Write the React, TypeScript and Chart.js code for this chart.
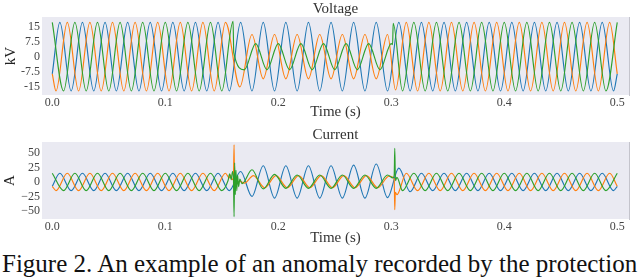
import React, { useEffect, useRef } from 'react';
import { Chart, registerables } from 'chart.js';

Chart.register(...registerables);

// ---- axis ticks (time in ms, labelled in seconds) ----
const xTicks = [0, 100, 200, 300, 400, 500];
const xTickLabels = ['0.0', '0.1', '0.2', '0.3', '0.4', '0.5'];
const vTicks = [-15, -7.5, 0, 7.5, 15];
const vTickLabels = ['-15', '-7.5', '0', '7.5', '15'];
const iTicks = [-50, -25, 0, 25, 50];
const iTickLabels = ['\u221250', '\u221225', '0', '25', '50'];
const seriesNames = ['Phase 1', 'Phase 2', 'Phase 3'];
const caption = 'Figure 2. An example of an anomaly recorded by the protection';

// ---- voltage (kV) : [time ms, value] at extrema / transients ----
const vBlue = [[0,-8.5],[6.7,17],[16.7,-17],[26.7,17],[36.7,-17],[46.7,17],[56.7,-17],[66.7,17],[76.7,-17],[86.7,17],[96.7,-17],[106.7,17],[116.7,-17],[126.7,17],[136.7,-17],[146.7,17],[156.7,-17],[166.7,17],[176.7,-17],[186.7,17],[196.7,-17],[206.7,17],[216.7,-17],[226.7,17],[236.7,-17],[246.7,17],[256.7,-17],[266.7,17],[276.7,-17],[286.7,17],[296.7,-17],[306.7,17],[316.7,-17],[326.7,17],[336.7,-17],[346.7,17],[356.7,-17],[366.7,17],[376.7,-17],[386.7,17],[396.7,-17],[406.7,17],[416.7,-17],[426.7,17],[436.7,-17],[446.7,17],[456.7,-17],[466.7,17],[476.7,-17],[486.7,17],[496.7,-17],[500,-8.5]];
const vOrange = [[0,-8.5],[3.3,-17],[13.3,17],[23.3,-17],[33.3,17],[43.3,-17],[53.3,17],[63.3,-17],[73.3,17],[83.3,-17],[93.3,17],[103.3,-17],[113.3,17],[123.3,-17],[133.3,17],[143.3,-17],[153.3,17],[166,-15],[176.7,11],[186.7,-11],[196.7,11],[206.7,-11],[216.7,11],[226.7,-11],[236.7,11],[246.7,-11],[256.7,11],[266.7,-11],[276.7,11],[286.7,-11],[296.7,11],[303.8,-16.5],[313.3,17],[323.3,-17],[333.3,17],[343.3,-17],[353.3,17],[363.3,-17],[373.3,17],[383.3,-17],[393.3,17],[403.3,-17],[413.3,17],[423.3,-17],[433.3,17],[443.3,-17],[453.3,17],[463.3,-17],[473.3,17],[483.3,-17],[493.3,17],[500,-8.5]];
const vGreen = [[0,17],[10,-17],[20,17],[30,-17],[40,17],[50,-17],[60,17],[70,-17],[80,17],[90,-17],[100,17],[110,-17],[120,17],[130,-17],[140,17],[150,-17],[160,17.5],[160.6,2],[170,-6.5],[180,6.5],[190,-6.5],[200,6.5],[210,-6.5],[220,6.5],[230,-6.5],[240,6.5],[250,-6.5],[260,6.5],[270,-6.5],[280,6.5],[290,-6.5],[300,6.5],[301.2,6],[301.7,16.5],[310,-17],[320,17],[330,-17],[340,17],[350,-17],[360,17],[370,-17],[380,17],[390,-17],[400,17],[410,-17],[420,17],[430,-17],[440,17],[450,-17],[460,17],[470,-17],[480,17],[490,-17],[500,17]];

// ---- current (A) ----
const iBlue = [[0,-7.5],[6.7,15],[16.7,-15],[26.7,15],[36.7,-15],[46.7,15],[56.7,-15],[66.7,15],[76.7,-15],[86.7,15],[96.7,-15],[106.7,15],[116.7,-15],[126.7,15],[136.7,-15],[146.7,15],[156.7,-15],[166.7,18],[176.7,-25],[186.7,28],[196.7,-28],[206.7,28],[216.7,-28],[226.7,28],[236.7,-28],[246.7,28],[256.7,-28],[266.7,29],[276.7,-28],[286.7,31],[296.7,-27],[306.7,24],[316.7,-17],[326.7,15],[336.7,-15],[346.7,15],[356.7,-15],[366.7,15],[376.7,-15],[386.7,15],[396.7,-15],[406.7,15],[416.7,-15],[426.7,15],[436.7,-15],[446.7,15],[456.7,-15],[466.7,15],[476.7,-15],[486.7,15],[496.7,-15],[500,-7.5]];
const iOrange = [[0,-7.5],[3.3,-15],[13.3,15],[23.3,-15],[33.3,15],[43.3,-15],[53.3,15],[63.3,-15],[73.3,15],[83.3,-15],[93.3,15],[103.3,-15],[113.3,15],[123.3,-15],[133.3,15],[143.3,-15],[153.3,15],[156.5,7],[157.8,12],[159,4],[160.3,8],[160.9,64],[161.3,-8],[162,4],[163,-3],[166,1],[170,-2],[178,11],[188,-10],[198,11],[208,-10],[218,11],[228,-10],[238,11],[248,-10],[258,11],[268,-10],[278,11],[288,-10],[298,10],[302.6,6],[303.1,-48],[303.6,-18],[305,-22],[313.3,15],[323.3,-15],[333.3,15],[343.3,-15],[353.3,15],[363.3,-15],[373.3,15],[383.3,-15],[393.3,15],[403.3,-15],[413.3,15],[423.3,-15],[433.3,15],[443.3,-15],[453.3,15],[463.3,-15],[473.3,15],[483.3,-15],[493.3,15],[500,-7.5]];
const iGreen = [[0,15],[10,-15],[20,15],[30,-15],[40,15],[50,-15],[60,15],[70,-15],[80,15],[90,-15],[100,15],[110,-15],[120,15],[130,-15],[140,15],[150,-15],[155.5,2],[157,14],[158.3,4],[159.5,18],[160.3,9],[160.9,-60],[161.4,33],[162,-22],[162.6,20],[163.3,-15],[164,12],[164.9,-8],[166,5],[168,-3],[176.7,21],[186.7,-12],[196.7,13],[206.7,-11],[216.7,12],[226.7,-11],[236.7,12],[246.7,-11],[256.7,12],[266.7,-11],[276.7,12],[286.7,-11],[296.7,12],[301.5,7],[302.6,12],[303.1,58],[303.7,2],[305,8],[310,-15],[320,15],[330,-15],[340,15],[350,-15],[360,15],[370,-15],[380,15],[390,-15],[400,15],[410,-15],[420,15],[430,-15],[440,15],[450,-15],[460,15],[470,-15],[480,15],[490,-15],[500,15]];

const COLORS = ['#1f77b4', '#ff7f0e', '#2ca02c'];
const SERIF = '"Liberation Serif", "Times New Roman", serif';

const panelPlugin = {
  id: 'panel',
  beforeDraw(chart: any) {
    const { ctx, chartArea: a } = chart;
    ctx.save();
    ctx.fillStyle = '#EAEAF2';
    ctx.fillRect(a.left, a.top, a.right - a.left, a.bottom - a.top);
    ctx.restore();
  },
  afterDraw(chart: any, _args: any, opts: any) {
    const { ctx, chartArea: a } = chart;
    ctx.save();
    ctx.strokeStyle = '#c4c4cc';
    ctx.lineWidth = 1;
    ctx.beginPath();
    ctx.moveTo(a.right + 0.5, a.top);
    ctx.lineTo(a.right + 0.5, a.bottom + 1);
    ctx.stroke();
    ctx.fillStyle = '#333';
    ctx.font = '15px ' + SERIF;
    ctx.textAlign = 'center';
    ctx.textBaseline = 'middle';
    ctx.fillText(opts.title, (a.left + a.right) / 2, opts.titleY);
    ctx.restore();
  },
};

type Panel = {
  series: number[][][];
  title: string;
  titleY: number;
  yLabel: string;
  yMin: number;
  yMax: number;
  yTicks: number[];
  yTickLabels: string[];
  padTop: number;
  xAxisH: number;
  xTitlePad: number;
  yTitlePad: number;
};

function makeConfig(p: Panel): any {
  return {
    type: 'line',
    data: {
      datasets: p.series.map((s, i) => ({
        label: seriesNames[i],
        data: s.map(([x, y]) => ({ x, y })),
        borderColor: COLORS[i],
        backgroundColor: COLORS[i],
        borderWidth: 1.15,
        pointRadius: 0,
        fill: false,
        cubicInterpolationMode: 'monotone',
        order: 3 - i,
      })),
    },
    options: {
      responsive: false,
      animation: false,
      events: [],
      layout: { padding: { top: p.padTop, right: 11, left: 0, bottom: 0 } },
      plugins: {
        legend: { display: false },
        tooltip: { enabled: false },
        panel: { title: p.title, titleY: p.titleY },
      },
      scales: {
        x: {
          type: 'linear',
          min: -9.1,
          max: 510.4,
          grid: { display: false, drawTicks: false },
          border: { display: false },
          afterFit: (s: any) => { s.height = p.xAxisH; },
          afterBuildTicks: (s: any) => { s.ticks = xTicks.map((v) => ({ value: v })); },
          ticks: {
            callback: (_v: any, i: number) => xTickLabels[i],
            color: '#444',
            font: { family: SERIF, size: 12 },
            padding: 1,
            maxRotation: 0,
            autoSkip: false,
          },
          title: {
            display: true,
            text: 'Time (s)',
            color: '#333',
            font: { family: SERIF, size: 15, lineHeight: 1 },
            padding: { top: 0, bottom: p.xTitlePad },
          },
        },
        y: {
          type: 'linear',
          min: p.yMin,
          max: p.yMax,
          grid: { display: false, drawTicks: false },
          border: { display: false },
          afterFit: (s: any) => { s.width = 42; },
          afterBuildTicks: (s: any) => { s.ticks = p.yTicks.map((v) => ({ value: v })); },
          ticks: {
            callback: (_v: any, i: number) => p.yTickLabels[i],
            color: '#444',
            font: { family: SERIF, size: 12 },
            padding: 2,
            autoSkip: false,
          },
          title: {
            display: true,
            text: p.yLabel,
            color: '#222',
            font: { family: SERIF, size: 15, lineHeight: 1 },
            padding: { top: p.yTitlePad, bottom: 0 },
          },
        },
      },
    },
    plugins: [panelPlugin],
  };
}

export default function App() {
  const topRef = useRef<HTMLCanvasElement | null>(null);
  const botRef = useRef<HTMLCanvasElement | null>(null);

  useEffect(() => {
    document.body.style.margin = '0';
    const c1 = new Chart(topRef.current as HTMLCanvasElement, makeConfig({
      series: [vBlue, vOrange, vGreen],
      title: 'Voltage', titleY: 9, yLabel: 'kV',
      yMin: -19, yMax: 19.7, yTicks: vTicks, yTickLabels: vTickLabels,
      padTop: 17, xAxisH: 25, xTitlePad: 0, yTitlePad: 4,
    }));
    const c2 = new Chart(botRef.current as HTMLCanvasElement, makeConfig({
      series: [iBlue, iOrange, iGreen],
      title: 'Current', titleY: 15, yLabel: 'A',
      yMin: -64, yMax: 69, yTicks: iTicks, yTickLabels: iTickLabels,
      padTop: 22, xAxisH: 31, xTitlePad: 4.5, yTitlePad: 2.5,
    }));
    return () => { c1.destroy(); c2.destroy(); };
  }, []);

  return (
    <div style={{ position: 'relative', width: 640, height: 279, background: '#fff', overflow: 'hidden' }}>
      <canvas ref={topRef} width={640} height={120}
        style={{ position: 'absolute', left: 0, top: 0, width: 640, height: 120 }} />
      <canvas ref={botRef} width={640} height={130}
        style={{ position: 'absolute', left: 0, top: 120, width: 640, height: 130 }} />
      <div style={{ position: 'absolute', left: 2, top: 250, fontFamily: SERIF, fontSize: 25, whiteSpace: 'nowrap', color: '#111', lineHeight: 'normal' }}>
        {caption}
      </div>
    </div>
  );
}
